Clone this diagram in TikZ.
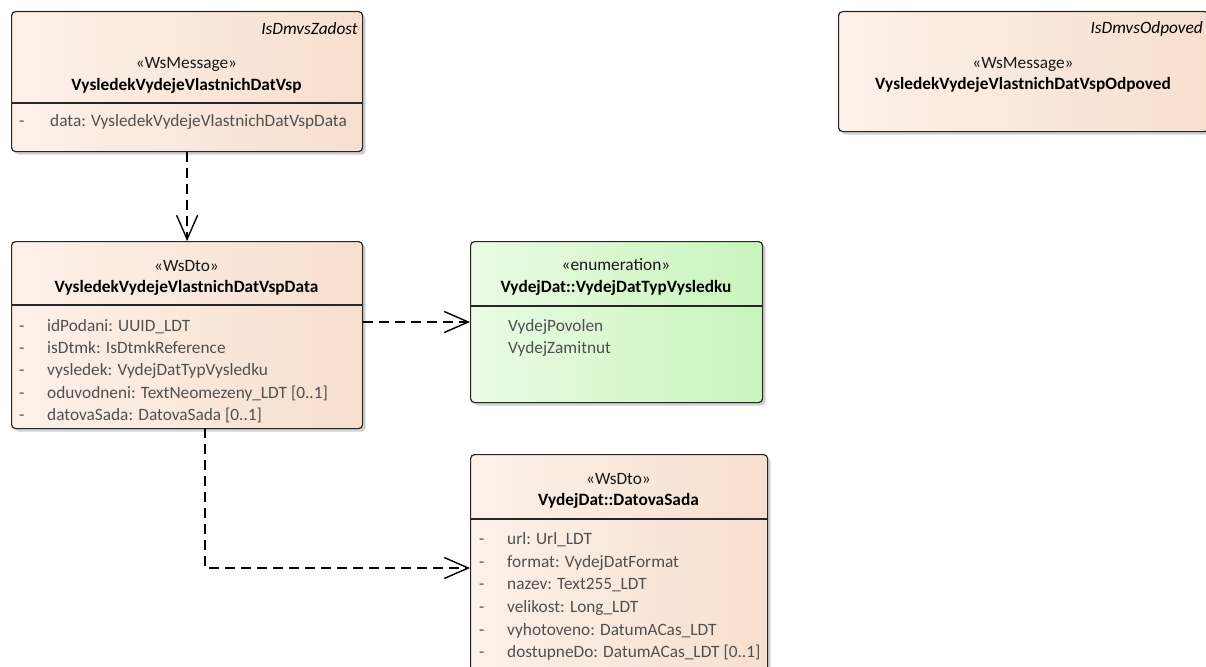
\documentclass[tikz,border=0pt]{standalone}
\usepackage{fontspec}
\setmainfont{Carlito}
\usetikzlibrary{arrows.meta,shadows}
\definecolor{peachL}{RGB}{252,241,234}
\definecolor{peachR}{RGB}{247,223,206}
\definecolor{greenL}{RGB}{234,251,228}
\definecolor{greenR}{RGB}{200,244,188}
\definecolor{attr}{RGB}{80,80,80}
\begin{document}
\begin{tikzpicture}[x=1pt,y=-1pt,
  cls/.style={draw=black!85, line width=1.2pt, rounded corners=4pt, anchor=north west,
    inner sep=0pt, left color=peachL, right color=peachR,
    drop shadow={shadow xshift=3pt, shadow yshift=-3pt, fill=black!30, opacity=0.6}},
  enumcls/.style={cls, left color=greenL, right color=greenR},
  sep/.style={line width=1.2pt, draw=black!85},
  stereo/.style={font=\fontsize{17.3}{20}\selectfont, inner sep=0pt, text=black!90},
  cname/.style={font=\fontsize{17.3}{20}\selectfont\bfseries, inner sep=0pt},
  tag/.style={font=\fontsize{17.3}{20}\selectfont\itshape, inner sep=0pt, anchor=east},
  att/.style={font=\fontsize{17.3}{20}\selectfont, inner sep=0pt, anchor=west, text=attr,
    text height=12pt, text depth=4pt},
  dep/.style={draw=black, line width=1.4pt, dash pattern=on 10pt off 6pt,
    -{Straight Barb[length=24pt,width=21pt,line width=1.4pt]}}
]
\useasboundingbox (0,0) rectangle (1206,666);

% Box 1
\node[cls, minimum width=351pt, minimum height=140pt] (b1) at (11,11) {};
\draw[sep] (b1.west |- 0,103) -- (b1.east |- 0,103);
\node[tag] (b1t) at (358,29) {IsDmvsZadost};
\node[stereo] (b1s) at (186.5,64) {«WsMessage»};
\node[cname] (b1n) at (186.5,86) {VysledekVydejeVlastnichDatVsp};
\node[att] (b1d) at (19,123) {-};
\node[att] (b1a) at (50,123) {data: VysledekVydejeVlastnichDatVspData};

% Box 2
\node[cls, minimum width=370pt, minimum height=120pt] (b2) at (838,11) {};
\node[tag] (b2t) at (1203,29) {IsDmvsOdpoved};
\node[stereo] (b2s) at (1023,64) {«WsMessage»};
\node[cname] (b2n) at (1023,85) {VysledekVydejeVlastnichDatVspOdpoved};

% Box 3
\node[cls, minimum width=351pt, minimum height=187pt] (b3) at (11,241) {};
\draw[sep] (b3.west |- 0,305) -- (b3.east |- 0,305);
\node[stereo] (b3s) at (186.5,266) {«WsDto»};
\node[cname] (b3n) at (186.5,288) {VysledekVydejeVlastnichDatVspData};
\foreach \yy/\tx [count=\i] in {327/{idPodani: UUID\_LDT},349/{isDtmk: IsDtmkReference},371/{vysledek: VydejDatTypVysledku},394/{oduvodneni: TextNeomezeny\_LDT [0..1]},416/{datovaSada: DatovaSada [0..1]}}{
  \node[att] (b3d\i) at (19,\yy) {-};
  \node[att] (b3a\i) at (47,\yy) {\tx};
}

% Enumeration
\node[enumcls, minimum width=292pt, minimum height=161pt] (en) at (470,241) {};
\draw[sep] (en.west |- 0,306) -- (en.east |- 0,306);
\node[stereo] (ens) at (616,265) {«enumeration»};
\node[cname] (enn) at (616,288) {VydejDat::VydejDatTypVysledku};
\node[att] (en1) at (508,327) {VydejPovolen};
\node[att] (en2) at (508,349) {VydejZamitnut};

% DatovaSada
\node[cls, minimum width=297pt, minimum height=240pt] (ds) at (470,454) {};
\draw[sep] (ds.west |- 0,519) -- (ds.east |- 0,519);
\node[stereo] (dss) at (618.5,479) {«WsDto»};
\node[cname] (dsn) at (618.5,501) {VydejDat::DatovaSada};
\foreach \yy/\tx [count=\i] in {540/{url: Url\_LDT},563/{format: VydejDatFormat},585/{nazev: Text255\_LDT},608/{velikost: Long\_LDT},631/{vyhotoveno: DatumACas\_LDT},653/{dostupneDo: DatumACas\_LDT [0..1]}}{
  \node[att] (dsd\i) at (479,\yy) {-};
  \node[att] (dsa\i) at (507,\yy) {\tx};
}

% Connectors
\draw[dep] (b1.south) -- (b3.north);
\draw[dep] (b3.east |- 0,322) -- (en.west |- 0,322);
\coordinate (c3) at (205,428);
\draw[dep] (c3) |- (ds.west |- 0,568);
\end{tikzpicture}
\end{document}
